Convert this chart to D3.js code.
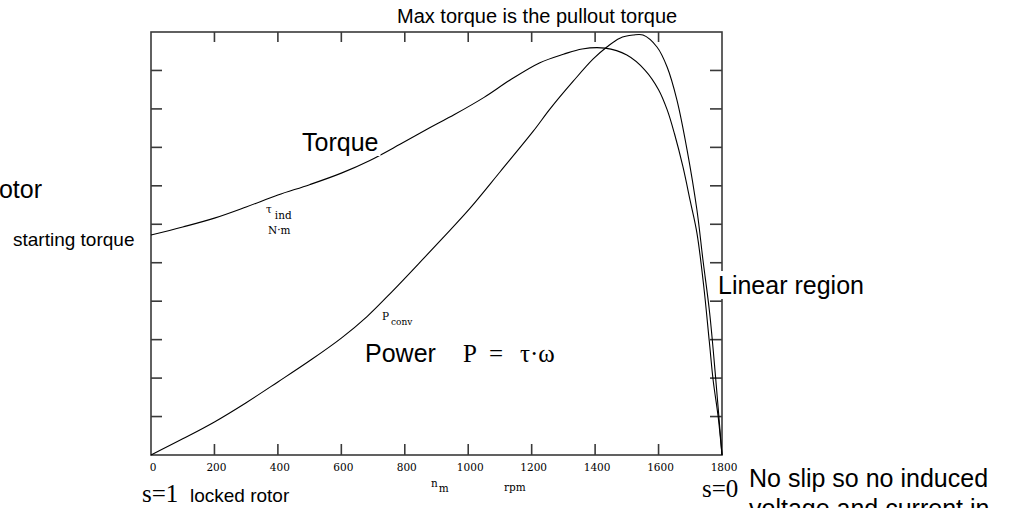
<!DOCTYPE html>
<html lang="en">
<head>
    <meta charset="UTF-8">
    <title>Induction motor torque-speed curve</title>
    <script src="https://d3js.org/d3.v7.min.js"></script>
    <style>
        body { margin: 0; background: #ffffff; }
        svg { display: block; }
        .sans { font-family: "Liberation Sans", Arial, sans-serif; fill: #000; }
        .serif { font-family: "Liberation Serif", "Times New Roman", serif; fill: #000; white-space: pre; }
        .small { font-family: "DejaVu Serif", serif; font-size: 10.5px; fill: #000; }
        .frame line, .frame rect { stroke: #3a3a3a; }
    </style>
</head>
<body>
<svg width="1015" height="508"></svg>
<script>
    // speed (rpm) and induced torque (y units = tick steps)
    const torqueRpm = [0, 100, 200, 300, 400, 500, 600, 690, 785, 870, 958, 1050, 1132, 1226, 1300, 1359, 1431, 1500, 1557, 1600, 1627, 1650, 1677, 1700, 1721, 1742, 1760, 1772, 1788, 1800];
    const torqueVal = [5.72, 5.93, 6.16, 6.45, 6.76, 7.03, 7.33, 7.66, 8.08, 8.47, 8.86, 9.3, 9.75, 10.2, 10.42, 10.56, 10.58, 10.4, 10.01, 9.5, 8.98, 8.36, 7.49, 6.6, 5.77, 4.42, 2.95, 1.95, 0.99, 0];

    // speed (rpm) and converted power
    const powerRpm = [0, 100, 200, 300, 400, 500, 600, 681, 760, 858, 943, 1006, 1100, 1205, 1258, 1331, 1394, 1437, 1478, 1520, 1551, 1595, 1627, 1658, 1690, 1721, 1740, 1761, 1780, 1800];
    const powerVal = [0, 0.42, 0.86, 1.36, 1.9, 2.45, 3.04, 3.6, 4.25, 5.1, 5.85, 6.42, 7.36, 8.42, 9.0, 9.72, 10.3, 10.61, 10.84, 10.92, 10.92, 10.61, 10.09, 9.23, 7.93, 6.37, 5.07, 3.7, 2.0, 0];

    const xTicks = [0, 200, 400, 600, 800, 1000, 1200, 1400, 1600, 1800];
    const yTicks = [1, 2, 3, 4, 5, 6, 7, 8, 9, 10];

    const svg = d3.select("svg");
    const x = d3.scaleLinear().domain([0, 1800]).range([151, 722]);
    const y = d3.scaleLinear().domain([0, 11]).range([455, 32]);

    // frame + ticks
    const frame = svg.append("g").attr("class", "frame");
    frame.append("rect")
        .attr("x", x(0)).attr("y", y(11))
        .attr("width", x(1800) - x(0)).attr("height", y(0) - y(11))
        .attr("fill", "none").attr("stroke-width", 1.6);

    const inner = xTicks.filter(d => d > 0 && d < 1800);
    frame.selectAll(".tb").data(inner).join("line")
        .attr("x1", d => x(d)).attr("x2", d => x(d))
        .attr("y1", y(0)).attr("y2", y(0) - 11).attr("stroke-width", 1.6);
    frame.selectAll(".tt").data(inner).join("line")
        .attr("x1", d => x(d)).attr("x2", d => x(d))
        .attr("y1", y(11)).attr("y2", y(11) + 10).attr("stroke-width", 1.6);
    frame.selectAll(".tl").data(yTicks).join("line")
        .attr("x1", x(0)).attr("x2", x(0) + 11)
        .attr("y1", d => y(d)).attr("y2", d => y(d)).attr("stroke-width", 1.6);
    frame.selectAll(".tr").data(yTicks).join("line")
        .attr("x1", x(1800)).attr("x2", x(1800) - 12)
        .attr("y1", d => y(d)).attr("y2", d => y(d)).attr("stroke-width", 1.6);

    svg.append("g").selectAll("text").data(xTicks).join("text")
        .attr("class", "small")
        .attr("x", d => x(d) + 2).attr("y", 471)
        .attr("text-anchor", "middle")
        .text(d => d);

    // curves
    const line = d3.line().x(d => x(d[0])).y(d => y(d[1])).curve(d3.curveCatmullRom.alpha(0.5));
    svg.append("path")
        .datum(torqueRpm.map((r, i) => [r, torqueVal[i]]))
        .attr("d", line).attr("fill", "none").attr("stroke", "#000").attr("stroke-width", 1.1);
    svg.append("path")
        .datum(powerRpm.map((r, i) => [r, powerVal[i]]))
        .attr("d", line).attr("fill", "none").attr("stroke", "#000").attr("stroke-width", 1.1);

    // text regions with white backing, like the worksheet
    const notes = svg.append("g");
    function label(txt, xPos, yPos, size, cls, bg) {
        const t = notes.append("text").attr("class", cls)
            .attr("x", xPos).attr("y", yPos)
            .style("font-size", size + "px").text(txt);
        if (bg) {
            const b = t.node().getBBox();
            notes.insert("rect", () => t.node())
                .attr("x", b.x - 2).attr("y", b.y)
                .attr("width", b.width + 4).attr("height", b.height)
                .attr("fill", "#fff");
        }
        return t;
    }

    label("Max torque is the pullout torque", 397, 23, 20, "sans", true);
    label("Torque", 302, 151, 25, "sans", true);
    notes.append("text").attr("class", "sans").attr("x", 42).attr("y", 198)
        .attr("text-anchor", "end").style("font-size", "25px").text("rotor");
    label("starting torque", 13, 246, 19, "sans", true);
    label("Linear region", 718, 294, 25, "sans", true);
    label("Power", 365, 362, 25, "sans", true);
    label("P", 463, 362, 25, "serif", false);
    label("=", 489, 362, 25, "serif", false);
    label("τ·ω", 520, 362, 25, "serif", false);
    label("s=1", 142, 502, 25, "serif", false);
    label("locked rotor", 190, 502, 19, "sans", false);
    label("s=0", 702, 497, 25, "serif", false);
    label("No slip so no induced", 749, 487, 25, "sans", false);
    label("voltage and current in", 749, 517, 25, "sans", false);

    // Mathcad style axis names
    const tau = notes.append("text").attr("class", "small").attr("x", 266).attr("y", 213);
    tau.append("tspan").text("τ");
    tau.append("tspan").attr("dx", 3).attr("dy", 6).text("ind");
    notes.append("text").attr("class", "small").attr("x", 268).attr("y", 234).text("N·m");

    const pc = notes.append("text").attr("class", "small").attr("x", 382).attr("y", 320);
    pc.append("tspan").text("P");
    pc.append("tspan").attr("dx", 2).attr("dy", 5).style("font-size", "9px").text("conv");

    const nm = notes.append("text").attr("class", "small").attr("x", 431).attr("y", 487);
    nm.append("tspan").text("n");
    nm.append("tspan").attr("dx", 1).attr("dy", 5).text("m");
    notes.append("text").attr("class", "small").attr("x", 504).attr("y", 491).text("rpm");
</script>
</body>
</html>
